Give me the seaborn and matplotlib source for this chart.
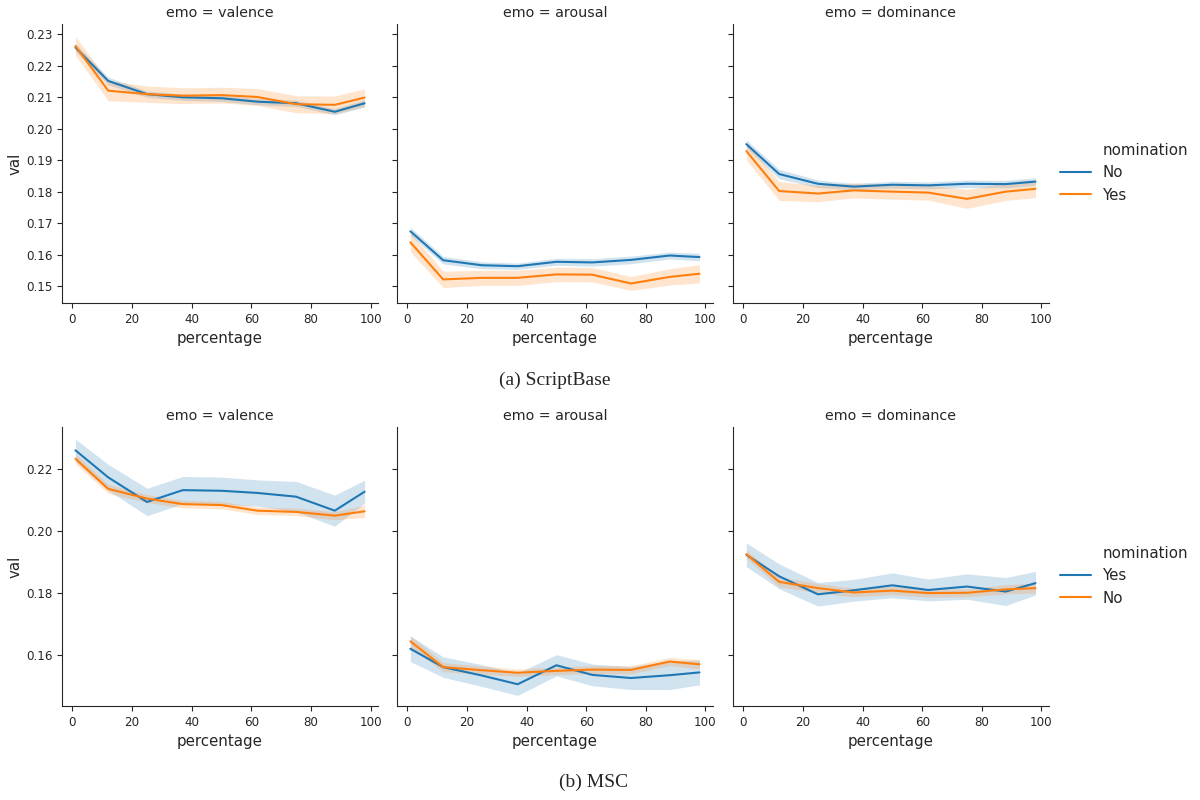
import pandas as pd
import numpy as np
import matplotlib
matplotlib.use("Agg")
import matplotlib.pyplot as plt
import seaborn as sns

# percentage bins shared by every curve
percentage = [1, 12, 25, 37, 50, 62, 75, 88, 98]
emotions = ['valence', 'arousal', 'dominance']

# (a) ScriptBase - mean val and half width of the confidence band
sb_valence_no = [0.2258, 0.2152, 0.2110, 0.2100, 0.2097, 0.2086, 0.2081, 0.2054, 0.2081]
sb_valence_yes = [0.2263, 0.2121, 0.2110, 0.2105, 0.2107, 0.2101, 0.2078, 0.2076, 0.2099]
sb_arousal_no = [0.1674, 0.1582, 0.1566, 0.1563, 0.1577, 0.1575, 0.1583, 0.1597, 0.1592]
sb_arousal_yes = [0.1639, 0.1521, 0.1526, 0.1526, 0.1537, 0.1536, 0.1508, 0.1529, 0.1539]
sb_dominance_no = [0.1951, 0.1856, 0.1825, 0.1816, 0.1822, 0.1820, 0.1825, 0.1824, 0.1832]
sb_dominance_yes = [0.1929, 0.1802, 0.1794, 0.1804, 0.1800, 0.1797, 0.1777, 0.1800, 0.1809]

sb_valence_no_ci = [0.0012, 0.0012, 0.0010, 0.0010, 0.0010, 0.0010, 0.0010, 0.0010, 0.0012]
sb_valence_yes_ci = [0.0030, 0.0032, 0.0026, 0.0025, 0.0025, 0.0027, 0.0027, 0.0028, 0.0028]
sb_arousal_no_ci = [0.0013, 0.0012, 0.0011, 0.0010, 0.0011, 0.0012, 0.0012, 0.0011, 0.0012]
sb_arousal_yes_ci = [0.0030, 0.0026, 0.0024, 0.0024, 0.0023, 0.0023, 0.0022, 0.0026, 0.0029]
sb_dominance_no_ci = [0.0013, 0.0015, 0.0012, 0.0010, 0.0011, 0.0011, 0.0012, 0.0012, 0.0012]
sb_dominance_yes_ci = [0.0028, 0.0030, 0.0026, 0.0024, 0.0024, 0.0024, 0.0030, 0.0028, 0.0028]

# (b) MSC
msc_valence_yes = [0.2259, 0.2172, 0.2093, 0.2131, 0.2129, 0.2122, 0.2110, 0.2065, 0.2126]
msc_valence_no = [0.2232, 0.2135, 0.2104, 0.2086, 0.2083, 0.2065, 0.2061, 0.2049, 0.2063]
msc_arousal_yes = [0.1621, 0.1562, 0.1535, 0.1507, 0.1568, 0.1537, 0.1527, 0.1536, 0.1545]
msc_arousal_no = [0.1645, 0.1562, 0.1552, 0.1544, 0.1550, 0.1554, 0.1553, 0.1580, 0.1571]
msc_dominance_yes = [0.1923, 0.1854, 0.1796, 0.1809, 0.1825, 0.1810, 0.1821, 0.1805, 0.1832]
msc_dominance_no = [0.1925, 0.1836, 0.1816, 0.1802, 0.1808, 0.1800, 0.1801, 0.1812, 0.1816]

msc_valence_yes_ci = [0.0036, 0.0042, 0.0044, 0.0044, 0.0044, 0.0042, 0.0049, 0.0050, 0.0037]
msc_valence_no_ci = [0.0016, 0.0015, 0.0013, 0.0012, 0.0012, 0.0012, 0.0012, 0.0013, 0.0020]
msc_arousal_yes_ci = [0.0041, 0.0033, 0.0035, 0.0036, 0.0034, 0.0035, 0.0037, 0.0046, 0.0040]
msc_arousal_no_ci = [0.0018, 0.0015, 0.0013, 0.0012, 0.0012, 0.0013, 0.0013, 0.0013, 0.0015]
msc_dominance_yes_ci = [0.0038, 0.0040, 0.0038, 0.0035, 0.0040, 0.0035, 0.0041, 0.0045, 0.0038]
msc_dominance_no_ci = [0.0013, 0.0016, 0.0015, 0.0014, 0.0013, 0.0013, 0.0013, 0.0015, 0.0016]


def long_form(dataset, series):
    # series: {(emo, nomination): (means, halfwidths)}
    rows = []
    for (emo, nom), (vals, cis) in series.items():
        for p, v, c in zip(percentage, vals, cis):
            rows.append({'dataset': dataset, 'emo': emo, 'nomination': nom,
                         'percentage': p, 'val': v, 'ci': c})
    return pd.DataFrame(rows)


df = pd.concat([
    long_form('ScriptBase', {
        ('valence', 'No'): (sb_valence_no, sb_valence_no_ci),
        ('valence', 'Yes'): (sb_valence_yes, sb_valence_yes_ci),
        ('arousal', 'No'): (sb_arousal_no, sb_arousal_no_ci),
        ('arousal', 'Yes'): (sb_arousal_yes, sb_arousal_yes_ci),
        ('dominance', 'No'): (sb_dominance_no, sb_dominance_no_ci),
        ('dominance', 'Yes'): (sb_dominance_yes, sb_dominance_yes_ci),
    }),
    long_form('MSC', {
        ('valence', 'Yes'): (msc_valence_yes, msc_valence_yes_ci),
        ('valence', 'No'): (msc_valence_no, msc_valence_no_ci),
        ('arousal', 'Yes'): (msc_arousal_yes, msc_arousal_yes_ci),
        ('arousal', 'No'): (msc_arousal_no, msc_arousal_no_ci),
        ('dominance', 'Yes'): (msc_dominance_yes, msc_dominance_yes_ci),
        ('dominance', 'No'): (msc_dominance_no, msc_dominance_no_ci),
    }),
], ignore_index=True)
df['lo'] = df['val'] - df['ci']
df['hi'] = df['val'] + df['ci']

sns.set_style("ticks")
blue, orange = sns.color_palette("tab10")[:2]

panels = [
    ('ScriptBase', '(a) ScriptBase', ['No', 'Yes'], 0.62125, (0.1446, 0.2333),
     [0.15, 0.16, 0.17, 0.18, 0.19, 0.20, 0.21, 0.22, 0.23], 0.4625, 0.525),
    ('MSC', '(b) MSC', ['Yes', 'No'], 0.1175, (0.1437, 0.2334),
     [0.16, 0.18, 0.20, 0.22], 0.495, 0.022),
]

fig = plt.figure(figsize=(12, 8), dpi=100)
lefts = [0.0517, 0.3308, 0.6108]
w, h = 0.2633, 0.34875

for dataset, caption, order, bottom, ylim, yticks, cap_x, cap_y in panels:
    palette = dict(zip(order, [blue, orange]))
    axes = []
    for i, emo in enumerate(emotions):
        ax = fig.add_axes([lefts[i], bottom, w, h], sharey=axes[0] if axes else None)
        axes.append(ax)
        sub = df[(df['dataset'] == dataset) & (df['emo'] == emo)]
        sns.lineplot(data=sub, x='percentage', y='val', hue='nomination',
                     hue_order=order, palette=palette, errorbar=None,
                     linewidth=1.5, legend=False, ax=ax)
        for nom in order:
            s = sub[sub['nomination'] == nom]
            ax.fill_between(s['percentage'], s['lo'], s['hi'],
                            color=palette[nom], alpha=0.2, linewidth=0)
        ax.set_title(f'emo = {emo}', fontsize=10.3, pad=5)
        ax.set_xlabel('percentage', fontsize=10.8)
        ax.set_xlim(-3.5, 102.5)
        ax.set_xticks([0, 20, 40, 60, 80, 100])
        ax.tick_params(labelsize=8.6)
        if i == 0:
            ax.set_ylabel('val', fontsize=10.8, labelpad=2.5)
            ax.set_ylim(*ylim)
            ax.set_yticks(yticks)
            ax.set_yticklabels([f'{t:.2f}' for t in yticks])
        else:
            ax.set_ylabel('')
            ax.tick_params(labelleft=False)
        sns.despine(ax=ax)

    # old-style seaborn legend: the hue name sits as an entry with no handle
    handles = [plt.Line2D([], [], color='none')]
    handles += [plt.Line2D([], [], color=palette[n], linewidth=1.5) for n in order]
    axes[-1].legend(handles, ['nomination'] + order, frameon=False,
                    loc='center left', bbox_to_anchor=(1.016, 0.467),
                    borderaxespad=0, fontsize=10.8, handlelength=2.1,
                    handletextpad=0.75)

    fig.text(cap_x, cap_y, caption, ha='center', va='center',
             fontsize=14, family='Liberation Serif')

fig.savefig('out.png', dpi=100)
